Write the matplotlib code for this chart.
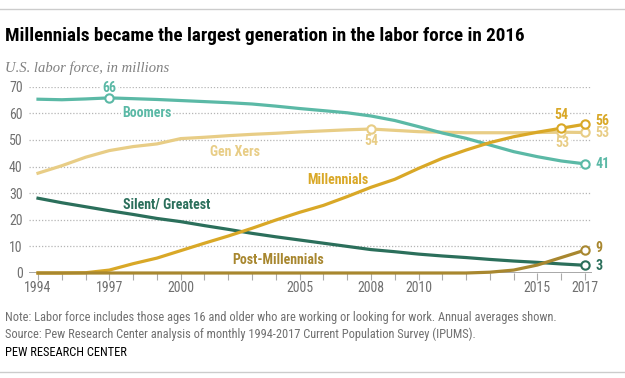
import matplotlib.pyplot as plt

# labor force by generation, millions
years = list(range(1994, 2018))
boomers = [65.3, 65.1, 65.4, 65.8, 65.5, 65.2, 64.8, 64.4, 64.0, 63.5, 62.7, 61.8,
           61.0, 60.2, 59.0, 57.3, 55.0, 52.6, 50.6, 48.1, 45.6, 43.7, 42.1, 41.0]
genx = [37.5, 40.3, 43.5, 46.0, 47.5, 48.5, 50.5, 51.0, 51.6, 52.1, 52.5, 53.0,
        53.4, 53.8, 54.1, 53.6, 53.1, 52.9, 52.7, 52.7, 52.7, 52.8, 52.9, 52.8]
millennials = [0, 0, 0.1, 1.1, 3.5, 5.6, 8.4, 11.2, 13.9, 16.8, 19.9, 22.8,
               25.4, 28.7, 32.2, 35.2, 39.3, 43.1, 46.2, 49.0, 51.2, 52.9, 54.4, 55.9]
silent = [28.1, 26.4, 24.9, 23.4, 22.0, 20.5, 19.3, 17.8, 16.4, 14.9, 13.6, 12.4,
          11.2, 10.0, 8.8, 8.0, 7.1, 6.4, 5.8, 5.1, 4.5, 4.0, 3.4, 2.9]
postmill = [0] * 19 + [0.3, 1.1, 3.0, 5.8, 8.6]

tick_years = [1994, 1997, 2000, 2005, 2008, 2010, 2015, 2017]

c_boom = '#5bb9a6'
c_genx = '#e8cd86'
c_mill = '#d9a827'
c_silent = '#2b6f5b'
c_post = '#a8872f'
grey = '#707070'

plt.rcParams['font.family'] = ['Roboto Condensed', 'Liberation Sans Narrow', 'Roboto', 'DejaVu Sans']

fig = plt.figure(figsize=(6.25, 3.78), dpi=100)
ax = fig.add_axes([29 / 625, 1 - 273 / 378, 563 / 625, (273 - 86.7) / 378])

x0 = 1994 - 9 / 23.78
x1 = 2017 + 7 / 23.78
ax.set_xlim(x0, x1)
ax.set_ylim(0, 70)

# dotted gridlines
for v in range(10, 80, 10):
    ax.axhline(v, color='#b5b5b5', lw=0.9, ls=(0, (1, 1.5)), zorder=0)
ax.axhline(0, color='#999999', lw=1.2, zorder=0)

lw = 2.3
ax.plot(years, genx, color=c_genx, lw=lw, clip_on=False, zorder=3)
ax.plot(years, boomers, color=c_boom, lw=lw, clip_on=False, zorder=3)
ax.plot(years, silent, color=c_silent, lw=lw, clip_on=False, zorder=3)
ax.plot(years, millennials, color=c_mill, lw=lw, clip_on=False, zorder=4)
ax.plot(years, postmill, color=c_post, lw=lw, clip_on=False, zorder=4)

# open circle markers
def dot(i, series, col):
    ax.plot(years[i], series[i], 'o', ms=6, mfc='white', mec=col, mew=1.5,
            clip_on=False, zorder=6)

dot(3, boomers, c_boom)
dot(-1, boomers, c_boom)
dot(14, genx, c_genx)
dot(-2, genx, c_genx)
dot(-1, genx, c_genx)
dot(-2, millennials, c_mill)
dot(-1, millennials, c_mill)
dot(-1, silent, c_silent)
dot(-1, postmill, c_post)

bb = dict(facecolor='white', edgecolor='none', pad=1)
def lab(x, y, s, col, ha='center'):
    ax.text(x, y, s, color=col, fontsize=10, fontweight='bold', ha=ha,
            va='center', bbox=bb, zorder=2)

lab(1997, 69.6, '66', c_boom)
lab(1998.6, 60.3, 'Boomers', c_boom)
lab(2002.3, 45.4, 'Gen Xers', c_genx)
lab(2006.6, 35.0, 'Millennials', c_mill)
lab(1999.4, 25.6, 'Silent/ Greatest', c_silent)
lab(2004.1, 5.0, 'Post-Millennials', c_post)
lab(2008, 49.6, '54', c_genx)
lab(2016, 59.2, '54', c_mill)
lab(2016.05, 49.0, '53', c_genx)
for val, y, col in [('56', 57.3, c_mill), ('53', 52.5, c_genx), ('41', 41.0, c_boom),
                    ('9', 9.3, c_post), ('3', 2.7, c_silent)]:
    ax.text(2017.45, y, val, color=col, fontsize=10, fontweight='bold', va='center')

for s in ax.spines.values():
    s.set_visible(False)
ax.set_xticks(years)
ax.set_xticklabels([str(y) if y in tick_years else '' for y in years])
ax.set_yticks(range(0, 80, 10))
ax.tick_params(axis='x', length=5, color='#aaaaaa', labelcolor=grey, labelsize=10, pad=0.5)
ax.tick_params(axis='y', length=0, labelcolor=grey, labelsize=10, pad=4.5)

fig.text(5 / 625, 1 - 36 / 378, 'Millennials became the largest generation in the labor force in 2016',
         fontsize=13.8, fontweight='bold', va='center', color='black')
fig.text(5 / 625, 1 - 68 / 378, 'U.S. labor force, in millions', fontsize=10.5,
         style='italic', family=['Liberation Serif', 'DejaVu Serif'], va='center', color='#808080')
fig.text(5 / 625, 1 - 318 / 378,
         'Note: Labor force includes those ages 16 and older who are working or looking for work. Annual averages shown.',
         fontsize=8.9, color=grey, va='center')
fig.text(5 / 625, 1 - 334 / 378,
         'Source: Pew Research Center analysis of monthly 1994-2017 Current Population Survey (IPUMS).',
         fontsize=8.9, color=grey, va='center')
fig.text(5 / 625, 1 - 352 / 378, 'PEW RESEARCH CENTER', fontsize=8.9, color='black', va='center')

fig.add_artist(plt.Line2D([0, 1], [1 - 9 / 378, 1 - 9 / 378], color='#cccccc', lw=1))
fig.add_artist(plt.Line2D([0, 1], [1 - 372 / 378, 1 - 372 / 378], color='#cccccc', lw=1))

fig.savefig('out.png', dpi=100)
